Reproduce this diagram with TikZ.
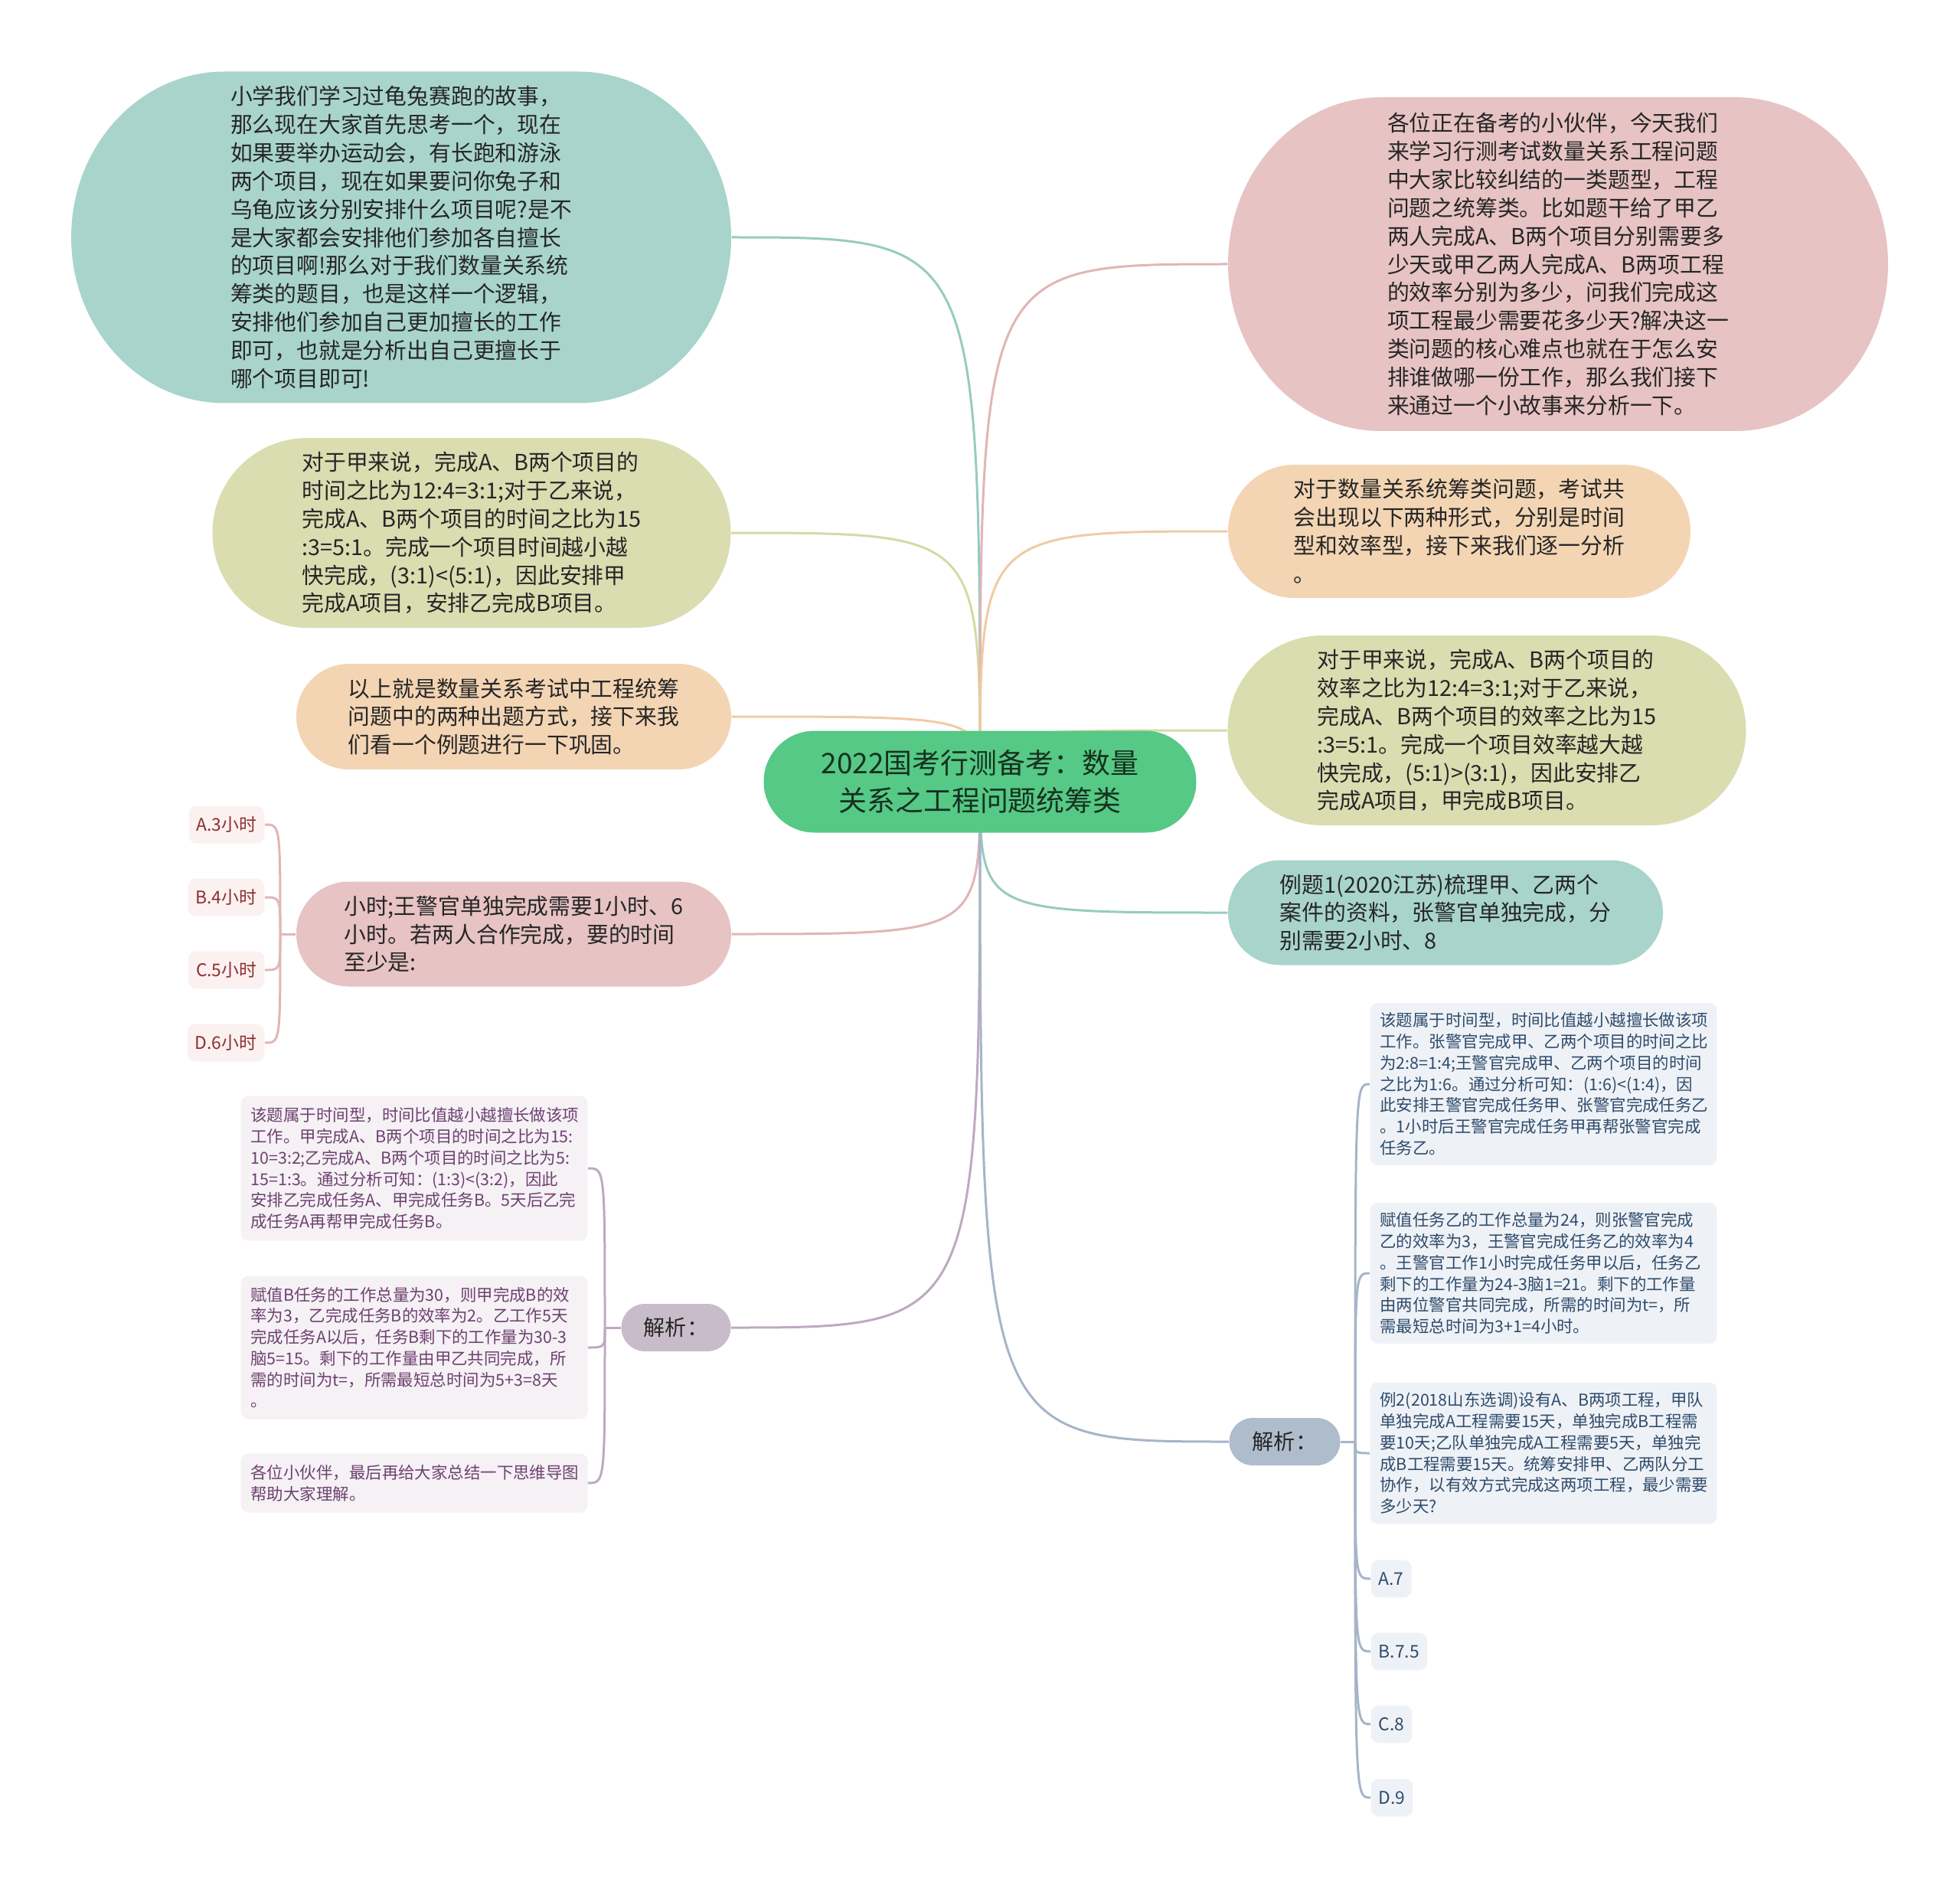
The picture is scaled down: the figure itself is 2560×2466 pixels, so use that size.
\documentclass[tikz,border=0pt]{standalone}
\usepackage{fontspec}
\setmainfont{Noto Sans CJK SC}
\usetikzlibrary{calc,backgrounds}

\definecolor{rootgreen}{HTML}{55C985}
\definecolor{fillteal}{HTML}{A8D4CB}
\definecolor{fillrose}{HTML}{E7C3C3}
\definecolor{fillpeach}{HTML}{F3D5B4}
\definecolor{fillolive}{HTML}{D9DDB0}
\definecolor{fillmauve}{HTML}{C9BCCA}
\definecolor{fillslate}{HTML}{AFBCCC}
\definecolor{lineteal}{HTML}{96CCC0}
\definecolor{linerose}{HTML}{E2B5B6}
\definecolor{linepeach}{HTML}{F0CBA3}
\definecolor{lineolive}{HTML}{D6DAA3}
\definecolor{linemauve}{HTML}{BDAABF}
\definecolor{lineslate}{HTML}{A6B5C8}
\definecolor{leafmauve}{HTML}{F5F1F5}
\definecolor{leafslate}{HTML}{EEF2F6}
\definecolor{leafrose}{HTML}{FBF1F1}
\definecolor{inkmauve}{HTML}{6E4170}
\definecolor{inkslate}{HTML}{2F4B6C}
\definecolor{inkrose}{HTML}{8E2F2F}
\definecolor{inkdark}{HTML}{262626}
\definecolor{inkroot}{HTML}{17301F}

\tikzset{pill/.style = {shape = rectangle,
                        inner sep = 0pt,
                        align = left,
                        text = inkdark,
                        font = \fontsize{8.2pt}{10.5pt}\selectfont,
                        path picture = {\fill[#1] let \p1 = (path picture bounding box.north east),
                                                      \p2 = (path picture bounding box.south west),
                                                      \n1 = {(\y1-\y2)/2},
                                                      \n2 = {min(\n1,20mm)} in
                                        (\x2+\n2,\y1) -- (\x1-\n2,\y1)
                                        arc[start angle = 90, end angle = -90, x radius = \n2*1pt, y radius = \n1*1pt]
                                        -- (\x2+\n2,\y2)
                                        arc[start angle = 270, end angle = 90, x radius = \n2*1pt, y radius = \n1*1pt]
                                        -- cycle;}},
         leaf/.style = {shape = rectangle,
                        rounded corners = 1mm,
                        fill = #1,
                        inner xsep = 1.3mm,
                        inner ysep = 0pt,
                        text width = 42.7mm,
                        align = left,
                        font = \fontsize{6.1pt}{7.9pt}\selectfont},
         opt/.style = {shape = rectangle,
                       rounded corners = 1mm,
                       fill = #1,
                       inner xsep = 1mm,
                       inner ysep = 0pt,
                       minimum height = 4.9mm,
                       font = \fontsize{6.5pt}{8pt}\selectfont},
         lnk/.style = {draw = #1, line width = 0.3mm}}

\begin{document}
\begin{tikzpicture}[x = 0.1mm, y = -0.1mm]
    \useasboundingbox (0,0) rectangle (2560,2466);
    % root
    \node[pill = rootgreen, align = center, text = inkroot, minimum width = 56.5mm, minimum height = 13.3mm,
          font = \fontsize{10.5pt}{13.9pt}\selectfont] (root) at (1280,1021)
        {2022国考行测备考：数量\\关系之工程问题统筹类};
    % left side
    \node[pill = fillteal, minimum width = 86.2mm, minimum height = 43.3mm] (story) at (524,310)
        {小学我们学习过龟兔赛跑的故事，\\那么现在大家首先思考一个，现在\\如果要举办运动会，有长跑和游泳\\两个项目，现在如果要问你兔子和\\乌龟应该分别安排什么项目呢?是不\\是大家都会安排他们参加各自擅长\\的项目啊!那么对于我们数量关系统\\筹类的题目，也是这样一个逻辑，\\安排他们参加自己更加擅长的工作\\即可，也就是分析出自己更擅长于\\哪个项目即可!};
    \node[pill = fillolive, minimum width = 67.7mm, minimum height = 24.8mm] (timeratio) at (616,696)
        {对于甲来说，完成A、B两个项目的\\时间之比为12:4=3:1;对于乙来说，\\完成A、B两个项目的时间之比为15\\:3=5:1。完成一个项目时间越小越\\快完成，(3:1)<(5:1)，因此安排甲\\完成A项目，安排乙完成B项目。};
    \node[pill = fillpeach, minimum width = 56.8mm, minimum height = 13.8mm] (summary) at (671,936)
        {以上就是数量关系考试中工程统筹\\问题中的两种出题方式，接下来我\\们看一个例题进行一下巩固。};
    \node[pill = fillrose, minimum width = 56.8mm, minimum height = 13.7mm] (hours) at (671,1220)
        {小时;王警官单独完成需要1小时、6\\小时。若两人合作完成，要的时间\\至少是:};
    \node[pill = fillmauve, align = center, minimum width = 14.3mm, minimum height = 6.2mm,
          font = \fontsize{8pt}{10pt}\selectfont] (jiexil) at (883,1734) {解析：};
    % right side
    \node[pill = fillrose, minimum width = 86.2mm, minimum height = 43.6mm] (intro) at (2035,345)
        {各位正在备考的小伙伴，今天我们\\来学习行测考试数量关系工程问题\\中大家比较纠结的一类题型，工程\\问题之统筹类。比如题干给了甲乙\\两人完成A、B两个项目分别需要多\\少天或甲乙两人完成A、B两项工程\\的效率分别为多少，问我们完成这\\项工程最少需要花多少天?解决这一\\类问题的核心难点也就在于怎么安\\排谁做哪一份工作，那么我们接下\\来通过一个小故事来分析一下。};
    \node[pill = fillpeach, minimum width = 60.4mm, minimum height = 17.4mm] (forms) at (1906,694)
        {对于数量关系统筹类问题，考试共\\会出现以下两种形式，分别是时间\\型和效率型，接下来我们逐一分析\\。};
    \node[pill = fillolive, minimum width = 67.7mm, minimum height = 24.8mm] (rateratio) at (1942,954)
        {对于甲来说，完成A、B两个项目的\\效率之比为12:4=3:1;对于乙来说，\\完成A、B两个项目的效率之比为15\\:3=5:1。完成一个项目效率越大越\\快完成，(5:1)>(3:1)，因此安排乙\\完成A项目，甲完成B项目。};
    \node[pill = fillteal, minimum width = 56.8mm, minimum height = 13.7mm] (example) at (1888,1192)
        {例题1(2020江苏)梳理甲、乙两个\\案件的资料，张警官单独完成，分\\别需要2小时、8};
    \node[pill = fillslate, align = center, minimum width = 14.5mm, minimum height = 6.2mm,
          font = \fontsize{8pt}{10pt}\selectfont] (jiexir) at (1678,1883) {解析：};

    % options of the hours question
    \node[opt = leafrose, text = inkrose, anchor = east] (ha) at (346,1077) {A.3小时};
    \node[opt = leafrose, text = inkrose, anchor = east] (hb) at (346,1172) {B.4小时};
    \node[opt = leafrose, text = inkrose, anchor = east] (hc) at (346,1267) {C.5小时};
    \node[opt = leafrose, text = inkrose, anchor = east] (hd) at (346,1362) {D.6小时};
    \coordinate (hj) at (366,1220);

    % left analysis leaves
    \node[leaf = leafmauve, text = inkmauve, minimum height = 18.9mm] (la) at (541,1526)
        {该题属于时间型，时间比值越小越擅长做该项\\工作。甲完成A、B两个项目的时间之比为15:\\10=3:2;乙完成A、B两个项目的时间之比为5:\\15=1:3。通过分析可知：(1:3)<(3:2)，因此\\安排乙完成任务A、甲完成任务B。5天后乙完\\成任务A再帮甲完成任务B。};
    \node[leaf = leafmauve, text = inkmauve, minimum height = 18.7mm] (lb) at (541,1760)
        {赋值B任务的工作总量为30，则甲完成B的效\\率为3，乙完成任务B的效率为2。乙工作5天\\完成任务A以后，任务B剩下的工作量为30-3\\脑5=15。剩下的工作量由甲乙共同完成，所\\需的时间为t=，所需最短总时间为5+3=8天\\。};
    \node[leaf = leafmauve, text = inkmauve, minimum height = 7.7mm] (lc) at (541,1937)
        {各位小伙伴，最后再给大家总结一下思维导图\\帮助大家理解。};
    \coordinate (lj) at (790,1734);

    % right analysis leaves
    \node[leaf = leafslate, text = inkslate, minimum height = 21.2mm] (ra) at (2016,1416)
        {该题属于时间型，时间比值越小越擅长做该项\\工作。张警官完成甲、乙两个项目的时间之比\\为2:8=1:4;王警官完成甲、乙两个项目的时间\\之比为1:6。通过分析可知：(1:6)<(1:4)，因\\此安排王警官完成任务甲、张警官完成任务乙\\。1小时后王警官完成任务甲再帮张警官完成\\任务乙。};
    \node[leaf = leafslate, text = inkslate, minimum height = 18.4mm] (rb) at (2016,1663)
        {赋值任务乙的工作总量为24，则张警官完成\\乙的效率为3，王警官完成任务乙的效率为4\\。王警官工作1小时完成任务甲以后，任务乙\\剩下的工作量为24-3脑1=21。剩下的工作量\\由两位警官共同完成，所需的时间为t=，所\\需最短总时间为3+1=4小时。};
    \node[leaf = leafslate, text = inkslate, minimum height = 18.5mm] (rc) at (2016,1898)
        {例2(2018山东选调)设有A、B两项工程，甲队\\单独完成A工程需要15天，单独完成B工程需\\要10天;乙队单独完成A工程需要5天，单独完\\成B工程需要15天。统筹安排甲、乙两队分工\\协作，以有效方式完成这两项工程，最少需要\\多少天?};
    \node[opt = leafslate, text = inkslate, anchor = west] (rd) at (1790,2062) {A.7};
    \node[opt = leafslate, text = inkslate, anchor = west] (re) at (1790,2157) {B.7.5};
    \node[opt = leafslate, text = inkslate, anchor = west] (rf) at (1790,2252) {C.8};
    \node[opt = leafslate, text = inkslate, anchor = west] (rg) at (1790,2348) {D.9};
    \coordinate (rj) at (1770,1883);

    \begin{scope}[on background layer]
        % branches from the root
        \draw[lnk = lineteal] (root.center) .. controls (root.center |- story.east) .. (story.east);
        \draw[lnk = lineolive] (root.center) .. controls (root.center |- timeratio.east) .. (timeratio.east);
        \draw[lnk = linepeach] (root.center) .. controls (root.center |- summary.east) .. (summary.east);
        \draw[lnk = linerose] (root.center) .. controls (root.center |- hours.east) .. (hours.east);
        \draw[lnk = linemauve] (root.center) .. controls (root.center |- jiexil.east) .. (jiexil.east);
        \draw[lnk = linerose] (root.center) .. controls (root.center |- intro.west) .. (intro.west);
        \draw[lnk = linepeach] (root.center) .. controls (root.center |- forms.west) .. (forms.west);
        \draw[lnk = lineolive] (root.center) .. controls (root.center |- rateratio.west) .. (rateratio.west);
        \draw[lnk = lineteal] (root.center) .. controls (root.center |- example.west) .. (example.west);
        \draw[lnk = lineslate] (root.center) .. controls (root.center |- jiexir.west) .. (jiexir.west);
        % brackets
        \draw[lnk = linerose] (hours.west) -- (hj);
        \foreach \n in {ha,hb,hc,hd}
            \draw[lnk = linerose] (hj) .. controls (hj |- \n.east) .. (\n.east);
        \draw[lnk = linemauve] (jiexil.west) -- (lj);
        \foreach \n in {la,lb,lc}
            \draw[lnk = linemauve] (lj) .. controls (lj |- \n.east) .. (\n.east);
        \draw[lnk = lineslate] (jiexir.east) -- (rj);
        \foreach \n in {ra,rb,rc,rd,re,rf,rg}
            \draw[lnk = lineslate] (rj) .. controls (rj |- \n.west) .. (\n.west);
    \end{scope}
\end{tikzpicture}
\end{document}
